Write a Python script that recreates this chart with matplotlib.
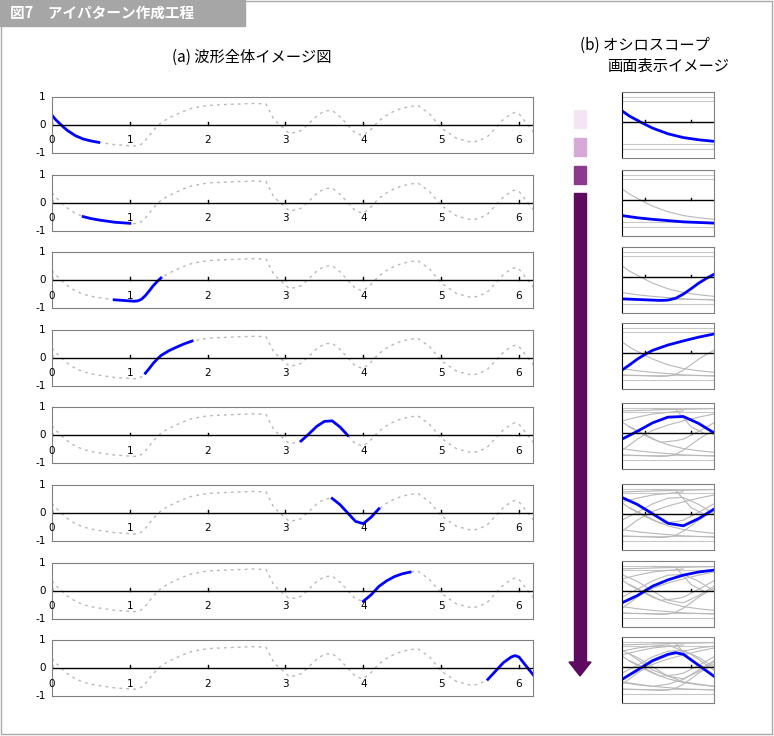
import numpy as np
import matplotlib.pyplot as plt
from matplotlib.patches import Rectangle, FancyArrow

plt.rcParams["font.family"] = ["Noto Sans CJK JP"]

# waveform
wave_x = [0, 0.05, 0.1, 0.15, 0.2, 0.3, 0.4, 0.5, 0.6, 0.7, 0.8, 0.9, 1.0, 1.05, 1.1, 1.15,
          1.2, 1.25, 1.3, 1.35, 1.4, 1.5, 1.6, 1.7, 1.8, 2.0, 2.3, 2.6, 2.75, 2.85, 2.95,
          3.05, 3.15, 3.2, 3.3, 3.4, 3.5, 3.6, 3.7, 3.8, 3.9, 4.0, 4.1, 4.2, 4.3, 4.4, 4.5,
          4.6, 4.7, 4.85, 5.0, 5.2, 5.4, 5.5, 5.6, 5.7, 5.8, 5.9, 5.95, 6.0, 6.1, 6.2]
wave_y = [0.35, 0.18, 0.05, -0.08, -0.2, -0.38, -0.5, -0.57, -0.62, -0.66, -0.7, -0.72,
          -0.74, -0.75, -0.74, -0.68, -0.55, -0.38, -0.2, -0.05, 0.08, 0.25, 0.38, 0.5,
          0.6, 0.7, 0.74, 0.77, 0.75, 0.2, -0.05, -0.3, -0.25, -0.2, 0.05, 0.32, 0.5,
          0.52, 0.3, 0.0, -0.3, -0.38, -0.15, 0.15, 0.35, 0.5, 0.6, 0.66, 0.7, 0.4, -0.1,
          -0.48, -0.62, -0.55, -0.4, -0.1, 0.2, 0.4, 0.45, 0.4, 0.05, -0.3]
seg_starts = [0, 0.4, 0.8, 1.2, 3.2, 3.6, 4.0, 5.6]
seg_width = 0.6
all_starts = [0, 0.4, 0.8, 1.2, 1.6, 2.0, 2.4, 2.8, 3.2, 3.6, 4.0, 4.4, 4.8, 5.2, 5.6]
x_ticks = [0, 1, 2, 3, 4, 5, 6]
box_colors = ["#f3e6f3", "#d6a9d6", "#8c3a8c"]

wx = np.array(wave_x)
wy = np.array(wave_y)

W, H = 774, 736
fig = plt.figure(figsize=(W / 100, H / 100), dpi=100)

def fax(l, t, w, h):
    return fig.add_axes([l / W, 1 - (t + h) / H, w / W, h / H])

# frame and title bar
bg = fax(0, 0, W, H)
bg.set_xlim(0, W); bg.set_ylim(H, 0); bg.axis("off")
bg.add_patch(Rectangle((1, 1), W - 3, H - 3, fill=False, ec="#aaaaaa", lw=1))
bg.add_patch(Rectangle((0, 0), 245, 26, color="#a6a6a6"))
bg.text(10, 13, "図7　アイパターン作成工程", color="white", fontsize=10.5,
        fontweight="bold", va="center")
bg.text(252, 57, "(a) 波形全体イメージ図", fontsize=11, ha="center", va="center")
bg.text(645, 45, "(b) オシロスコープ", fontsize=11, ha="center", va="center")
bg.text(668, 66, "画面表示イメージ", fontsize=11, ha="center", va="center")
for i, c in enumerate(box_colors):
    bg.add_patch(Rectangle((574, 110 + i * 28), 12, 18, color=c))
bg.add_patch(Rectangle((574, 193), 12, 470, color="#5e0a5e"))
bg.add_patch(FancyArrow(580, 660, 0, 16, width=0, head_width=22, head_length=14,
                        length_includes_head=True, color="#5e0a5e"))

for i, s in enumerate(seg_starts):
    top = 97 + i * 77.6
    ax = fax(52, top, 481, 56)
    ax.plot(wx, wy, ls=(0, (2, 3)), color="#b8b8b8", lw=1)
    m = (wx >= s - 1e-9) & (wx <= s + seg_width + 1e-9)
    ax.plot(wx[m], wy[m], color="blue", lw=2)
    ax.axhline(0, color="black", lw=1)
    ax.set_xlim(0, 6.18); ax.set_ylim(-1, 1)
    ax.set_xticks([]); ax.set_yticks([])
    for sp in ax.spines.values():
        sp.set_color("#808080")
    for t in x_ticks:
        ax.plot([t, t], [0, 0.1], color="black", lw=1)
        ax.text(t, -0.55, str(t), fontsize=7.5, ha="center", va="center", family="DejaVu Sans")
    for v in [1, 0, -1]:
        ax.text(-0.08, v, str(v), fontsize=7.5, ha="right", va="center",
                family="DejaVu Sans", clip_on=False)

    # oscilloscope panel
    rtop = [92, 170, 247, 323, 403, 484, 561, 637][i]
    rx = fax(622, rtop, 92, 66)
    for g in [0.8, 0.65, -0.7, -0.85]:
        rx.axhline(g, color="#c8c8c8", lw=0.8)
    for s2 in all_starts:
        if s2 >= s:
            break
        m2 = (wx >= s2 - 1e-9) & (wx <= s2 + seg_width + 1e-9)
        rx.plot(wx[m2] - s2, wy[m2], color="#b8b8b8", lw=0.8)
    rx.plot(wx[m] - s, wy[m], color="blue", lw=2)
    rx.axhline(0, color="black", lw=1)
    for t in [0.15, 0.45]:
        rx.plot([t, t], [0, 0.07], color="black", lw=1)
    rx.set_xlim(0, seg_width); rx.set_ylim(-1.15, 0.95)
    rx.set_xticks([]); rx.set_yticks([])
    for name, sp in rx.spines.items():
        sp.set_color("black" if name == "left" else "#808080")

fig.savefig("out.png", dpi=100)
